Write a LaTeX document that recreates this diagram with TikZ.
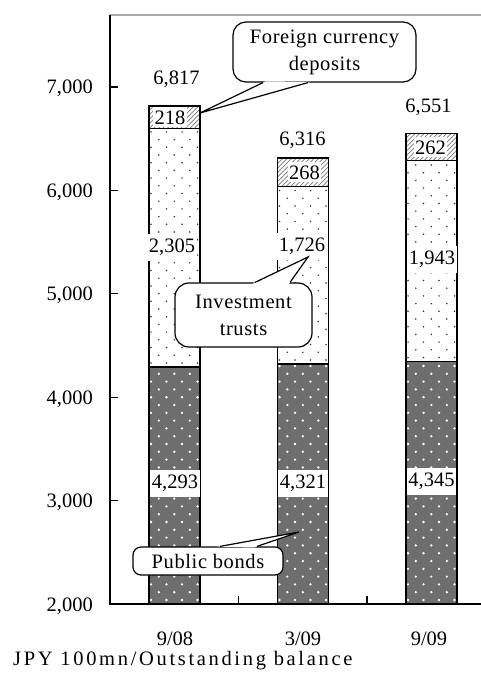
\documentclass[tikz,border=0pt]{standalone}
\usepackage{fontspec}
\setmainfont{Liberation Serif}
\usetikzlibrary{calc}
\definecolor{pbgray}{HTML}{6E6E6E}
\definecolor{itdot}{HTML}{333333}
\definecolor{hatchgray}{HTML}{7A7A7A}
\definecolor{framegray}{HTML}{A8A8A8}
\newcommand\chartfont{\fontsize{20.5}{27}\selectfont}
\newcommand\drawbar[4]{%
  \begin{scope}
    \clip (#1,#2) rectangle (#1+51,604);
    \fill[pbgray] (#1,#2) rectangle (#1+51,604);
    \foreach \ii in {0,...,32}{\foreach \jj in {0,...,3}{
      \fill[white] ({#1+2+\jj*15.5+mod(\ii,2)*7.8},{600-\ii*7.8}) circle[radius=1.3pt];}}
  \end{scope}
  \begin{scope}
    \clip (#1,#3) rectangle (#1+51,#2);
    \foreach \ii in {0,...,31}{\foreach \jj in {0,...,3}{
      \fill[itdot] ({#1+2+\jj*15.5+mod(\ii,2)*7.8},{#2-4-\ii*7.7}) circle[radius=0.85pt];}}
  \end{scope}
  \begin{scope}
    \clip (#1,#4) rectangle (#1+51,#3);
    \foreach \ii in {-8,...,14}{\draw[hatchgray,line width=0.8pt] ({#1+\ii*4.5},#3) -- ++(35,-35);}
  \end{scope}
  \draw[barline] (#1,#2) rectangle (#1+51,604);
  \draw[barline] (#1,#3) rectangle (#1+51,#2);
  \draw[barline] (#1,#4) rectangle (#1+51,#3);
}
\begin{document}
\begin{tikzpicture}[x=1pt,y=-1pt,
  barline/.style={black,line width=1.2pt},
  axisline/.style={black,line width=1.3pt},
  lbl/.style={font=\chartfont,inner sep=0pt,text height=14pt,text depth=0pt},
  seg/.style={font=\chartfont,fill=white,inner xsep=1.5pt,inner ysep=5pt,text height=14pt,text depth=3pt},
  fcseg/.style={font=\chartfont,fill=white,inner xsep=1.5pt,inner ysep=3pt,text height=14pt,text depth=0pt},
  calloutbox/.style={draw=black,line width=1.2pt,fill=white,font=\chartfont\addfontfeature{LetterSpace=3},align=center,inner sep=2pt},
  pointer/.style={draw=black,line width=1.2pt,line join=miter}
]
\useasboundingbox (0,0) rectangle (481,674);
\fill[white] (0,0) rectangle (481,674);

% bars
\drawbar{149}{366.9}{128.6}{106.0}
\drawbar{277.5}{364.0}{186.1}{158.0}
\drawbar{406}{361.5}{160.6}{133.5}

% frame and axes
\draw[framegray,line width=1.5pt] (110,15) -- (481,15);
\draw[axisline] (110,15) -- (110,604) -- (481,604);
\foreach \yy in {87,190.4,293.8,397.2,500.6,604}{\draw[axisline] (110,\yy) -- (118,\yy);}
\foreach \xx in {238.5,367}{\draw[axisline] (\xx,604) -- (\xx,596);}

% y labels
\node[lbl,anchor=east] (y7) at (93,87) {7,000};
\node[lbl,anchor=east] (y6) at (93,190.4) {6,000};
\node[lbl,anchor=east] (y5) at (93,293.8) {5,000};
\node[lbl,anchor=east] (y4) at (93,397.2) {4,000};
\node[lbl,anchor=east] (y3) at (93,500.6) {3,000};
\node[lbl,anchor=east] (y2) at (93,604) {2,000};

% x labels
\node[lbl,anchor=base] (x1) at (175,645) {9/08};
\node[lbl,anchor=base] (x2) at (303,645) {3/09};
\node[lbl,anchor=base] (x3) at (429,645) {9/09};
\node[font=\chartfont\addfontfeature{LetterSpace=13},anchor=base west,inner sep=0pt] (unit) at (13,665) {JPY 100mn/Outstanding balance};

% totals
\node[lbl,anchor=base] (t1) at (176.5,85) {6,817};
\node[lbl,anchor=base] (t2) at (302.5,145) {6,316};
\node[lbl,anchor=base] (t3) at (428.5,113) {6,551};

% segment labels
\node[fcseg] (f1) at (170,117.3) {218};
\node[fcseg] (f2) at (304.5,172) {268};
\node[fcseg] (f3) at (430.5,147) {262};
\node[seg] (i1) at (172,247) {2,305};
\node[seg] (i2) at (302,246) {1,726};
\node[seg] (i3) at (432,259) {1,943};
\node[seg] (p1) at (175,483) {4,293};
\node[seg] (p2) at (303,483) {4,321};
\node[seg] (p3) at (431.5,481) {4,345};

% callouts
\node[calloutbox,rounded corners=13pt,minimum width=183pt,minimum height=60pt] (fc) at (324.5,52) {Foreign currency\\deposits};
\coordinate (fctip) at (200,113);
\coordinate (fcb1) at ([xshift=-61.5pt]fc.south);
\coordinate (fcb2) at ([xshift=-16.5pt]fc.south);
\fill[white] (fctip) -- ($(fcb1)!-3pt!(fctip)$) -- ($(fcb2)!-3pt!(fctip)$) -- cycle;
\draw[pointer] (fcb1) -- (fctip) -- (fcb2);

\node[calloutbox,rounded corners=14pt,minimum width=137pt,minimum height=64pt] (it) at (243.5,315) {Investment\\trusts};
\coordinate (ittip) at (308,257);
\coordinate (itb1) at ([xshift=11.5pt]it.north);
\coordinate (itb2) at ([xshift=46.5pt]it.north);
\fill[white] (ittip) -- ($(itb1)!-3pt!(ittip)$) -- ($(itb2)!-3pt!(ittip)$) -- cycle;
\draw[pointer] (itb1) -- (ittip) -- (itb2);

\node[calloutbox,rounded corners=8pt,minimum width=150pt,minimum height=28pt] (pb) at (208,561) {Public bonds};
\coordinate (pbtip) at (299,532);
\coordinate (pbb1) at ([xshift=12pt]pb.north);
\coordinate (pbb2) at ([xshift=49pt]pb.north);
\fill[white] (pbtip) -- ($(pbb1)!-3pt!(pbtip)$) -- ($(pbb2)!-3pt!(pbtip)$) -- cycle;
\draw[pointer] (pbb1) -- (pbtip) -- (pbb2);
\end{tikzpicture}
\end{document}
